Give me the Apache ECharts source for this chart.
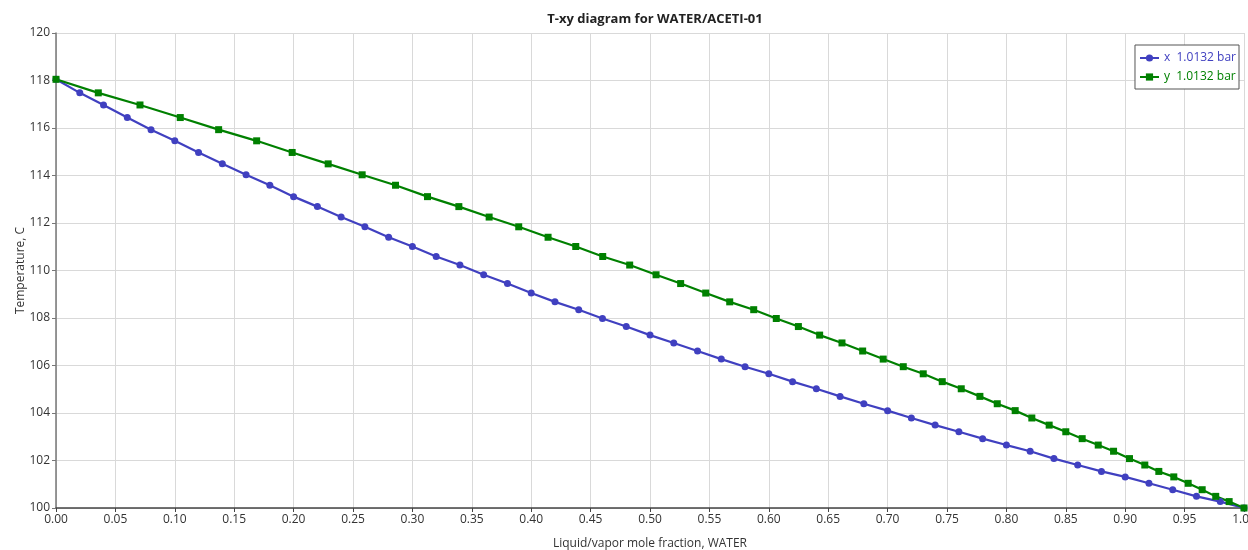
<!DOCTYPE html>
<html>
<head>
<meta charset="utf-8">
<script src="https://cdn.jsdelivr.net/npm/echarts@6/dist/echarts.min.js"></script>
<style>html,body{margin:0;padding:0;background:#fff}#c{width:1248px;height:550px}</style>
</head>
<body>
<div id="c"></div>
<script>
const titleText = 'T-xy diagram for WATER/ACETI-01';
const xAxisName = 'Liquid/vapor mole fraction, WATER';
const yAxisName = 'Temperature, C';
const seriesNames = ['x  1.0132 bar', 'y  1.0132 bar'];
// Temperatures (C)
const temperature = [118.05,117.48,116.97,116.44,115.93,115.46,114.97,114.49,114.03,113.59,
  113.11,112.69,112.25,111.84,111.40,111.01,110.59,110.23,109.82,109.45,
  109.05,108.68,108.35,107.98,107.64,107.28,106.95,106.61,106.27,105.95,
  105.65,105.32,105.02,104.70,104.39,104.10,103.79,103.49,103.21,102.92,
  102.65,102.39,102.08,101.81,101.54,101.31,101.04,100.77,100.49,100.27,100.00];
// Liquid mole fraction of water
const xLiquid = [0.00,0.02,0.04,0.06,0.08,0.10,0.12,0.14,0.16,0.18,
  0.20,0.22,0.24,0.26,0.28,0.30,0.32,0.34,0.36,0.38,
  0.40,0.42,0.44,0.46,0.48,0.50,0.52,0.54,0.56,0.58,
  0.60,0.62,0.64,0.66,0.68,0.70,0.72,0.74,0.76,0.78,
  0.80,0.82,0.84,0.86,0.88,0.90,0.92,0.94,0.96,0.98,1.00];
// Vapor mole fraction of water
const yVapor = [0.000,0.0356,0.0707,0.1046,0.1369,0.1689,0.1988,0.2291,0.2577,0.2858,
  0.3127,0.3391,0.3646,0.3895,0.4142,0.4375,0.4602,0.4829,0.5051,0.5258,
  0.5469,0.5671,0.5873,0.6063,0.6249,0.6428,0.6616,0.6790,0.6963,0.7132,
  0.7300,0.7460,0.7620,0.7777,0.7923,0.8074,0.8214,0.8360,0.8500,0.8638,
  0.8773,0.8902,0.9036,0.9165,0.9283,0.9409,0.9530,0.9648,0.9762,0.9875,1.000];

const blue = '#4040c0', green = '#008000';
const font = 'Open Sans, Noto Sans, sans-serif';
const chart = echarts.init(document.getElementById('c'), null, {renderer: 'canvas'});
chart.setOption({
  animation: false,
  backgroundColor: '#fff',
  textStyle: {fontFamily: font},
  title: {text: titleText, left: 650, top: 8, textAlign: 'center',
    textStyle: {fontSize: 13, fontWeight: 'bold', color: '#222', fontFamily: font}},
  grid: {left: 56, right: 4, top: 33, bottom: 42, containLabel: false, outerBoundsMode: 'none'},
  legend: {
    orient: 'vertical', right: 9, top: 45,
    backgroundColor: '#fff', borderColor: '#555', borderWidth: 1, borderRadius: 0,
    padding: [7, 3, 6, 4], itemGap: 7, itemWidth: 19, itemHeight: 9,
    data: [
      {name: seriesNames[0], textStyle: {color: blue}},
      {name: seriesNames[1], textStyle: {color: green}}
    ],
    textStyle: {fontSize: 12, fontFamily: font}
  },
  xAxis: {
    type: 'value', min: 0, max: 1, interval: 0.05,
    name: xAxisName, nameLocation: 'middle', nameGap: 30, nameMoveOverlap: false,
    nameTextStyle: {fontSize: 12, color: '#333'},
    axisLine: {show: true, onZero: false, lineStyle: {color: '#444', width: 1.5}},
    axisTick: {show: true, length: 4, lineStyle: {color: '#444'}},
    axisLabel: {color: '#333', fontSize: 12, margin: 6, formatter: v => v.toFixed(2)},
    splitLine: {show: true, lineStyle: {color: '#d9d9d9', width: 1}}
  },
  yAxis: {
    type: 'value', min: 100, max: 120, interval: 2,
    name: yAxisName, nameLocation: 'middle', nameGap: 29, nameRotate: 90, nameMoveOverlap: false,
    nameTextStyle: {fontSize: 12, color: '#333'},
    axisLine: {show: true, onZero: false, lineStyle: {color: '#777', width: 1.5}},
    axisTick: {show: true, length: 4, lineStyle: {color: '#777'}},
    axisLabel: {color: '#333', fontSize: 12, margin: 6},
    splitLine: {show: true, lineStyle: {color: '#d9d9d9', width: 1}}
  },
  series: [
    {name: seriesNames[0], type: 'line', data: xLiquid.map((v, i) => [v, temperature[i]]),
      color: blue, lineStyle: {width: 2.2, color: blue}, symbol: 'circle', symbolSize: 7,
      itemStyle: {color: blue}, clip: false},
    {name: seriesNames[1], type: 'line', data: yVapor.map((v, i) => [v, temperature[i]]),
      color: green, lineStyle: {width: 2.2, color: green}, symbol: 'rect', symbolSize: 7,
      itemStyle: {color: green}, clip: false}
  ]
});
</script>
</body>
</html>
